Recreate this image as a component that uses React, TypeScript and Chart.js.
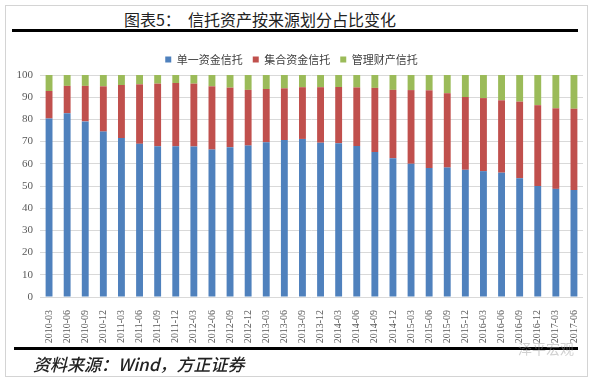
import React, { useEffect, useRef } from "react";
import { Chart, registerables } from "chart.js";

Chart.register(...registerables);

const categories = [
  "2010-03", "2010-06", "2010-09", "2010-12",
  "2011-03", "2011-06", "2011-09", "2011-12",
  "2012-03", "2012-06", "2012-09", "2012-12",
  "2013-03", "2013-06", "2013-09", "2013-12",
  "2014-03", "2014-06", "2014-09", "2014-12",
  "2015-03", "2015-06", "2015-09", "2015-12",
  "2016-03", "2016-06", "2016-09", "2016-12",
  "2017-03", "2017-06",
];

const singleTrust = [
  80.4, 82.8, 79.1, 74.5, 71.6, 69.0, 67.9, 67.9, 67.8, 66.4,
  67.5, 68.2, 69.7, 70.7, 71.2, 69.5, 69.3, 68.0, 65.3, 62.5,
  60.0, 58.1, 58.3, 57.3, 56.7, 56.0, 53.5, 50.0, 48.7, 48.2,
];

const collectiveTrust = [
  12.4, 12.3, 16.0, 20.4, 23.9, 26.8, 28.2, 28.5, 28.3, 28.5,
  26.8, 25.1, 24.0, 23.3, 23.3, 25.0, 25.3, 26.4, 28.9, 30.8,
  33.2, 35.0, 33.5, 32.8, 32.9, 32.6, 34.5, 36.4, 36.3, 36.6,
];

const propertyTrust = [
  7.2, 4.9, 4.9, 5.1, 4.5, 4.2, 3.9, 3.6, 3.9, 5.1,
  5.7, 6.7, 6.3, 6.0, 5.5, 5.5, 5.4, 5.6, 5.8, 6.7,
  6.8, 6.9, 8.2, 9.9, 10.4, 11.4, 12.0, 13.6, 15.0, 15.2,
];

const seriesNames = ["单一资金信托", "集合资金信托", "管理财产信托"];
const yTicks = [0, 10, 20, 30, 40, 50, 60, 70, 80, 90, 100];

const titleText = "图表5：  信托资产按来源划分占比变化";
const sourceText = "资料来源：Wind，方正证券";
const watermarkText = "泽平宏观";

export default function App() {
  const canvasRef = useRef<HTMLCanvasElement | null>(null);

  useEffect(() => {
    document.body.style.margin = "0";
    const canvas = canvasRef.current;
    if (!canvas) return;
    const chart = new Chart(canvas, {
      type: "bar",
      data: {
        labels: categories,
        datasets: [
          { label: seriesNames[0], data: singleTrust, backgroundColor: "#4F81BD" },
          { label: seriesNames[1], data: collectiveTrust, backgroundColor: "#C0504D" },
          { label: seriesNames[2], data: propertyTrust, backgroundColor: "#9BBB59" },
        ],
      },
      options: {
        animation: false,
        responsive: false,
        maintainAspectRatio: false,
        layout: { padding: { left: 0, right: 14, top: 44, bottom: 38 } },
        datasets: { bar: { categoryPercentage: 1, barPercentage: 0.38 } },
        plugins: {
          legend: {
            position: "top",
            labels: {
              boxWidth: 6,
              boxHeight: 6,
              padding: 10,
              color: "#404040",
              font: { family: "'Noto Sans CJK SC', sans-serif", size: 11 },
            },
          },
          tooltip: { enabled: false },
        },
        scales: {
          x: {
            stacked: true,
            grid: { display: false },
            border: { display: false },
            ticks: {
              autoSkip: false,
              maxRotation: 90,
              minRotation: 90,
              padding: 5,
              color: "#595959",
              font: { family: "'Liberation Serif', serif", size: 10 },
            },
            afterFit: (scale: any) => { scale.height = 49; },
          },
          y: {
            stacked: true,
            min: 0,
            max: 100,
            afterBuildTicks: (scale: any) => {
              scale.ticks = yTicks.map((v) => ({ value: v }));
            },
            grid: { color: "#D9D9D9", lineWidth: 1, drawTicks: false },
            border: { display: false },
            ticks: {
              padding: 7,
              color: "#595959",
              font: { family: "'Liberation Serif', serif", size: 11 },
            },
            afterFit: (scale: any) => { scale.width = 40; },
          },
        },
      },
    });
    return () => chart.destroy();
  }, []);

  return (
    <div style={{ position: "relative", width: 597, height: 384, background: "#fff", overflow: "hidden" }}>
      <div style={{ position: "absolute", left: 5, top: 5, width: 583, height: 372, border: "1px solid #D4D4D4", boxSizing: "border-box" }} />
      <div style={{ position: "absolute", left: 0, top: 9, width: 520, textAlign: "center", fontFamily: "'Noto Sans CJK SC', sans-serif", fontSize: 16, color: "#222", whiteSpace: "pre", lineHeight: "20px" }}>
        {titleText}
      </div>
      <div style={{ position: "absolute", left: 12, top: 29, width: 566, height: 3, background: "#000" }} />
      <canvas ref={canvasRef} width={597} height={384} style={{ position: "absolute", left: 0, top: 0, width: 597, height: 384 }} />
      <div style={{ position: "absolute", left: 14, top: 347, width: 564, height: 3, background: "#000" }} />
      <div style={{ position: "absolute", left: 33, top: 353, fontFamily: "'Noto Sans CJK SC', sans-serif", fontSize: 17, fontStyle: "italic", fontWeight: 500, color: "#222", lineHeight: "22px", whiteSpace: "pre" }}>
        {sourceText}
      </div>
      <div style={{ position: "absolute", left: 518, top: 339, fontFamily: "'Noto Sans CJK SC', sans-serif", fontSize: 14, color: "rgba(150,150,150,0.45)", lineHeight: "18px" }}>
        {watermarkText}
      </div>
    </div>
  );
}
